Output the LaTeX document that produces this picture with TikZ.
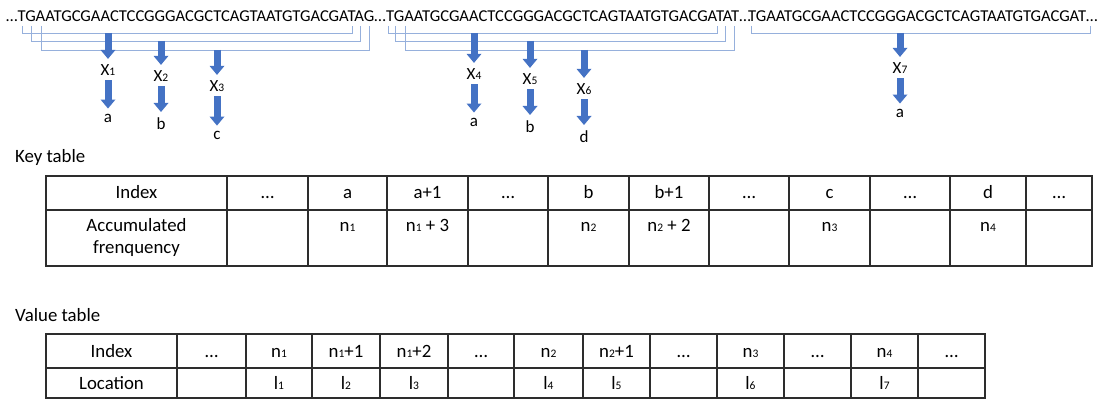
\documentclass[tikz,border=0pt]{standalone}
\usepackage{fontspec}
\setmainfont{Carlito}
\usetikzlibrary{arrows.meta}
\definecolor{arrowblue}{RGB}{68,114,196}
\definecolor{brackblue}{RGB}{150,176,220}
\definecolor{gridgray}{RGB}{45,45,45}
\newcommand\sm[1]{{\fontsize{11.5}{12}\selectfont #1}}
\tikzset{
  blk/.style={arrowblue,line width=7pt,-{Triangle[width=15pt,length=9pt,line width=0pt]},shorten >=5pt},
  brk/.style={brackblue,line width=0.9pt},
  tbl/.style={gridgray,line width=1.3pt},
  seq/.style={anchor=base west,inner sep=0pt,font=\fontsize{16.6}{19}\selectfont},
  lab/.style={anchor=base,inner sep=1pt,font=\fontsize{17}{19}\selectfont},
  cell/.style={anchor=base,inner sep=0pt,font=\fontsize{18.8}{22}\selectfont},
  tabname/.style={anchor=base west,inner sep=0pt,font=\fontsize{18.8}{22}\selectfont}
}
\begin{document}
\begin{tikzpicture}[x=1pt,y=-1pt]
    \useasboundingbox (0,0) rectangle (1104,401);
    % the sequence
    \node[seq] (s1) at (6,22) {…TGAATGCGAACTCCGGGACGCTCAGTAATGTGACGATAG…};
    \node[seq] (s2) at (386,22) {TGAATGCGAACTCCGGGACGCTCAGTAATGTGACGATAT…};
    \node[seq] (s3) at (748,22) {TGAATGCGAACTCCGGGACGCTCAGTAATGTGACGAT…};
    % brackets of the windows
    \draw[brk] (22,26) |- (352,33) -- (352,26);% window 1
    \draw[brk] (31,26) |- (360,41) -- (360,26);% window 2
    \draw[brk] (41,26) |- (369,50) -- (369,26);% window 3
    \draw[brk] (388,26) |- (717,33) -- (717,26);% window 4
    \draw[brk] (395,26) |- (725,41) -- (725,26);% window 5
    \draw[brk] (405,26) |- (734,50) -- (734,26);% window 6
    \draw[brk] (751,26) |- (1090,33) -- (1090,26);% window 7
    % hashes and keys
    \coordinate (w1) at (108,33);
    \coordinate (w2) at (161,41);
    \coordinate (w3) at (217,50);
    \coordinate (w4) at (474,33);
    \coordinate (w5) at (530,41);
    \coordinate (w6) at (584,50);
    \coordinate (w7) at (900,33);
    \node[lab] (x1) at (108,76) {X\sm{1}};
    \node[lab] (x2) at (161,82) {X\sm{2}};
    \node[lab] (x3) at (217,92) {X\sm{3}};
    \node[lab] (x4) at (474,80) {X\sm{4}};
    \node[lab] (x5) at (530,85) {X\sm{5}};
    \node[lab] (x6) at (584,95) {X\sm{6}};
    \node[lab] (x7) at (900,74) {X\sm{7}};
    \node[lab] (k1) at (108,123) {a};
    \node[lab] (k2) at (161,130) {b};
    \node[lab] (k3) at (217,140) {c};
    \node[lab] (k4) at (474,127) {a};
    \node[lab] (k5) at (530,133) {b};
    \node[lab] (k6) at (584,143) {d};
    \node[lab] (k7) at (900,118) {a};
    \draw[blk] (w1) -- (x1);
    \draw[blk] (w2) -- (x2);
    \draw[blk] (w3) -- (x3);
    \draw[blk] (w4) -- (x4);
    \draw[blk] (w5) -- (x5);
    \draw[blk] (w6) -- (x6);
    \draw[blk] (w7) -- (x7);
    \draw[blk,shorten <=3pt] (x1) -- (k1);
    \draw[blk,shorten <=3pt] (x2) -- (k2);
    \draw[blk,shorten <=3pt] (x3) -- (k3);
    \draw[blk,shorten <=3pt] (x4) -- (k4);
    \draw[blk,shorten <=3pt] (x5) -- (k5);
    \draw[blk,shorten <=3pt] (x6) -- (k6);
    \draw[blk,shorten <=3pt] (x7) -- (k7);
    % Key table
    \node[tabname] (keyname) at (15,163) {Key table};
    \draw[tbl] (46,176) rectangle (1092,266);
    \draw[tbl] (46,210) -- (1092,210);
    \foreach \x in {227,308,387,468,548,629,709,789,870,950,1026}
        \draw[tbl] (\x,176) -- (\x,266);
    \node[cell] (kidx) at (136.5,199) {Index};
    \node[cell] (kh1) at (267.5,199) {…};
    \node[cell] (kh2) at (347.5,199) {a};
    \node[cell] (kh3) at (427.5,199) {a+1};
    \node[cell] (kh4) at (508,199) {…};
    \node[cell] (kh5) at (588.5,199) {b};
    \node[cell] (kh6) at (669,199) {b+1};
    \node[cell] (kh7) at (749,199) {…};
    \node[cell] (kh8) at (829.5,199) {c};
    \node[cell] (kh9) at (910,199) {…};
    \node[cell] (kh10) at (988,199) {d};
    \node[cell] (kh11) at (1059,199) {…};
    \node[cell,anchor=center,align=center] (kacc) at (136.5,237) {Accumulated\\frenquency};
    \node[cell] (kv2) at (347.5,231) {n\sm{1}};
    \node[cell] (kv3) at (427.5,231) {n\sm{1} + 3};
    \node[cell] (kv5) at (588.5,231) {n\sm{2}};
    \node[cell] (kv6) at (669,231) {n\sm{2} + 2};
    \node[cell] (kv8) at (829.5,231) {n\sm{3}};
    \node[cell] (kv10) at (988,231) {n\sm{4}};
    % Value table
    \node[tabname] (valname) at (15,321) {Value table};
    \draw[tbl] (46,334) rectangle (985,398);
    \draw[tbl] (46,368) -- (985,368);
    \foreach \x in {177,246,312,380,448,514,583,650,717,784,851,918}
        \draw[tbl] (\x,334) -- (\x,398);
    \node[cell] (vidx) at (111.5,357) {Index};
    \node[cell] (vh1) at (211.5,357) {…};
    \node[cell] (vh2) at (279,357) {n\sm{1}};
    \node[cell] (vh3) at (346,357) {n\sm{1}+1};
    \node[cell] (vh4) at (414,357) {n\sm{1}+2};
    \node[cell] (vh5) at (481,357) {…};
    \node[cell] (vh6) at (548.5,357) {n\sm{2}};
    \node[cell] (vh7) at (616.5,357) {n\sm{2}+1};
    \node[cell] (vh8) at (683.5,357) {…};
    \node[cell] (vh9) at (750.5,357) {n\sm{3}};
    \node[cell] (vh10) at (817.5,357) {…};
    \node[cell] (vh11) at (884.5,357) {n\sm{4}};
    \node[cell] (vh12) at (951.5,357) {…};
    \node[cell] (vloc) at (111.5,389) {Location};
    \node[cell] (vl2) at (279,389) {l\sm{1}};
    \node[cell] (vl3) at (346,389) {l\sm{2}};
    \node[cell] (vl4) at (414,389) {l\sm{3}};
    \node[cell] (vl6) at (548.5,389) {l\sm{4}};
    \node[cell] (vl7) at (616.5,389) {l\sm{5}};
    \node[cell] (vl9) at (750.5,389) {l\sm{6}};
    \node[cell] (vl11) at (884.5,389) {l\sm{7}};
\end{tikzpicture}
\end{document}
